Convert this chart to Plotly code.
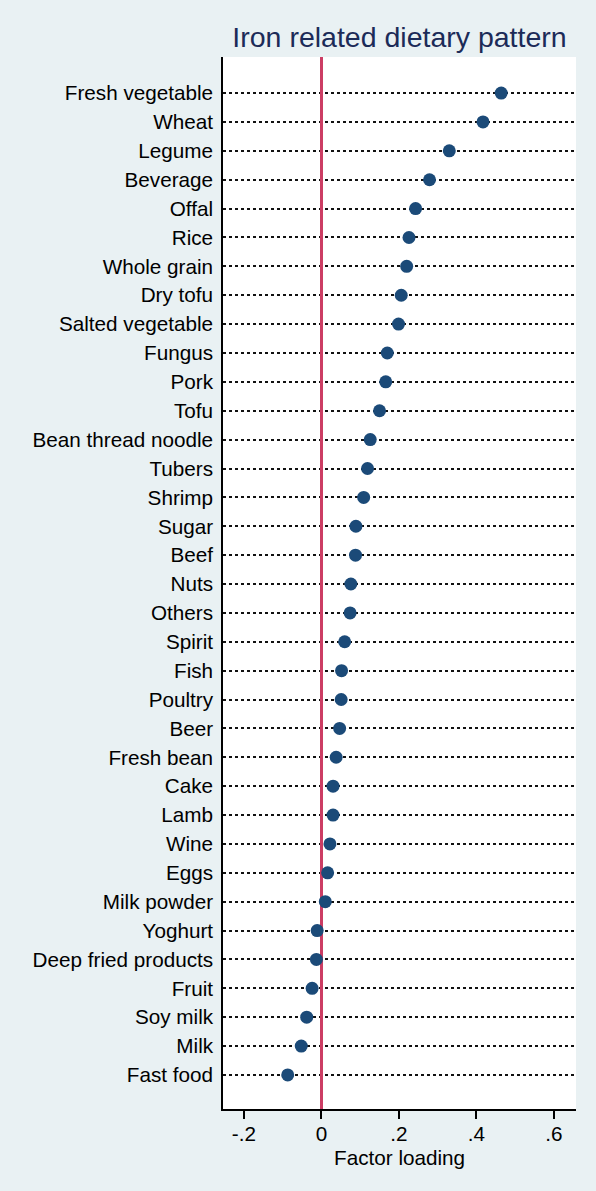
import plotly.graph_objects as go

foods = ["Fresh vegetable", "Wheat", "Legume", "Beverage", "Offal", "Rice", "Whole grain",
         "Dry tofu", "Salted vegetable", "Fungus", "Pork", "Tofu", "Bean thread noodle",
         "Tubers", "Shrimp", "Sugar", "Beef", "Nuts", "Others", "Spirit", "Fish", "Poultry",
         "Beer", "Fresh bean", "Cake", "Lamb", "Wine", "Eggs", "Milk powder", "Yoghurt",
         "Deep fried products", "Fruit", "Soy milk", "Milk", "Fast food"]
loadings = [0.464, 0.417, 0.330, 0.279, 0.243, 0.226, 0.220, 0.206, 0.199, 0.170, 0.166,
            0.150, 0.126, 0.119, 0.109, 0.089, 0.088, 0.076, 0.074, 0.060, 0.052, 0.051,
            0.047, 0.038, 0.030, 0.030, 0.022, 0.016, 0.010, -0.011, -0.013, -0.024,
            -0.038, -0.052, -0.087]
x_ticks = [-0.2, 0, 0.2, 0.4, 0.6]
x_ticktext = ["-.2", "0", ".2", ".4", ".6"]

FONT = "Liberation Sans, Arial, sans-serif"
BG = "#E9F1F3"

fig = go.Figure()
fig.add_trace(go.Scatter(
    x=loadings, y=foods, mode="markers",
    marker=dict(size=13, color="#1b4a78"),
    showlegend=False, hoverinfo="x+y",
))

fig.update_layout(
    width=596, height=1191,
    paper_bgcolor=BG, plot_bgcolor="#FFFFFF",
    margin=dict(l=223, r=20, t=57, b=82),
    font=dict(family=FONT, size=20.7, color="#000000"),
    title=dict(text="Iron related dietary pattern", x=0.5, xref="paper",
               y=1 - 27 / 1191, yanchor="top",
               font=dict(family=FONT, size=28.5, color="#1c2b58")),
    annotations=[dict(text="Factor loading", x=0.5, xref="paper", y=0, yref="paper",
                      xanchor="center", yanchor="top", yshift=-35, showarrow=False,
                      font=dict(family=FONT, size=20.7, color="#000000"))],
)

fig.update_yaxes(
    type="category", categoryorder="array", categoryarray=foods,
    range=[35.18, -1.25],
    showgrid=True, gridcolor="#111111", gridwidth=1.6, griddash="dot",
    showline=True, linecolor="#000000", linewidth=1.5, mirror=False,
    ticks="", ticklabelstandoff=4,
    tickfont=dict(family=FONT, size=20.7, color="#000000"),
    zeroline=False,
)

fig.update_xaxes(
    range=[-0.254, 0.657],
    tickvals=x_ticks, ticktext=x_ticktext,
    showgrid=False,
    zeroline=True, zerolinecolor="#cc3d64", zerolinewidth=2.5,
    showline=True, linecolor="#000000", linewidth=1.5, mirror=False,
    ticks="outside", ticklen=8, tickwidth=1.5, tickcolor="#000000",
    ticklabelstandoff=-3,
    tickfont=dict(family=FONT, size=20.7, color="#000000"),
)

fig.write_html(
    "out.html",
    config={"displayModeBar": False},
    post_script="document.body.style.margin='0';document.body.style.background='" + BG + "';",
)
